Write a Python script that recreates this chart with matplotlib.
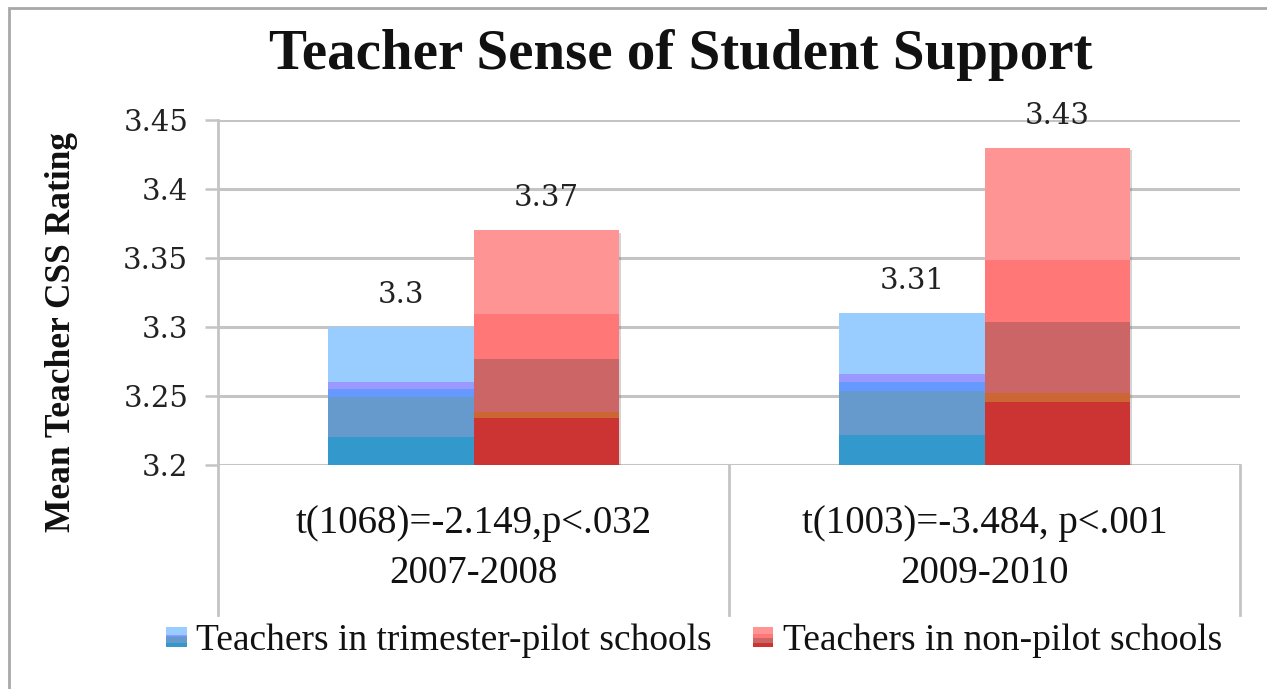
import numpy as np
import matplotlib
matplotlib.use("Agg")
import matplotlib.pyplot as plt
from matplotlib.patches import Rectangle
from matplotlib.legend_handler import HandlerBase
import matplotlib.patheffects as pe

# data
years = ["2007-2008", "2009-2010"]
t_tests = ["t(1068)=-2.149,p<.032", "t(1003)=-3.484, p<.001"]
pilot = [3.30, 3.31]
non_pilot = [3.37, 3.43]
series_names = ["Teachers in trimester-pilot schools", "Teachers in non-pilot schools"]
y_ticks = [3.2, 3.25, 3.3, 3.35, 3.4, 3.45]

# gradient bands (fraction of bar height, colour), bottom to top
blue_bands = [(0.0, "#3399CC"), (0.20, "#6699CC"), (0.49, "#6699FF"),
              (0.55, "#9999FF"), (0.60, "#99CCFF")]
red_bands = [(0.0, "#CC3333"), (0.20, "#CC6633"), (0.228, "#CC6666"),
             (0.45, "#FF7777"), (0.645, "#FF9494")]

base = 3.2
W, H = 1267, 689
fig = plt.figure(figsize=(W / 100, H / 100), dpi=100)
ax = fig.add_axes([218 / W, 1 - 465 / H, 1022 / W, 345 / H])

serif = "Liberation Serif"
tick_font = "DejaVu Serif"
grid_col = "#C4C4C4"


def gradient_bar(x, value, width, bands):
    h = value - base
    # one full bar carries the shadow, bands go on top
    ax.bar(x, h, width, bottom=base, color=bands[0][1], zorder=2, linewidth=0,
           path_effects=[pe.SimplePatchShadow(offset=(2, -2), alpha=0.25, shadow_rgbFace="#555555"),
                         pe.Normal()])
    fracs = [b[0] for b in bands] + [1.0]
    for i, (f0, col) in enumerate(bands):
        f1 = fracs[i + 1]
        ax.bar(x, (f1 - f0) * h, width, bottom=base + f0 * h, color=col,
               zorder=3, linewidth=0)


x = np.arange(len(years))
bw = 0.284
for i in range(len(years)):
    gradient_bar(x[i] - bw / 2, pilot[i], bw, blue_bands)
    gradient_bar(x[i] + bw / 2, non_pilot[i], bw, red_bands)
    for xx, v in [(x[i] - bw / 2, pilot[i]), (x[i] + bw / 2, non_pilot[i])]:
        ax.annotate(f"{v:g}", (xx, v), xytext=(0, 13), textcoords="offset points",
                    ha="center", va="bottom", fontsize=21, family=tick_font,
                    color="#222222")

ax.set_ylim(base, 3.45)
ax.set_xlim(-0.5, 1.5)
ax.set_yticks(y_ticks)
ax.set_yticklabels([f"{t:g}" for t in y_ticks], family=tick_font, fontsize=21,
                   color="#222222")
ax.yaxis.grid(True, color=grid_col, linewidth=2.2, zorder=0)
ax.set_axisbelow(True)
ax.tick_params(axis="y", length=9.5, width=1.8, color=grid_col, pad=12)
for s in ["top", "right", "bottom"]:
    ax.spines[s].set_visible(False)
ax.spines["left"].set_color(grid_col)
ax.spines["left"].set_linewidth(2)

ax.set_xticks(x)
ax.set_xticklabels([f"{t}\n{y}" for t, y in zip(t_tests, years)], family=serif,
                   fontsize=28, linespacing=1.45, color="#111111")
ax.tick_params(axis="x", length=0, pad=29)

# category separators below the axis
for sx in [-0.5, 0.5, 1.5]:
    ax.plot([sx, sx], [0, -150 / 345], transform=ax.get_xaxis_transform(),
            color=grid_col, lw=2, clip_on=False, zorder=1)

ax.set_ylabel("Mean Teacher CSS Rating", family=serif, fontsize=25.5,
              fontweight="bold", color="#111111")
ax.yaxis.set_label_coords((78 - 218) / 1022, (465 - 332) / 345)

fig.text(681 / W, 1 - 55 / H, "Teacher Sense of Student Support", family=serif,
         fontsize=41, fontweight="bold", ha="center", va="center", color="#111111")

# outer chart border
fig.patches.append(Rectangle((9 / W, -0.1), 1.2, 1 - 8 / H + 0.1, transform=fig.transFigure,
                             fill=False, edgecolor="#A8A8A8", lw=2))


class GradientHandler(HandlerBase):
    def __init__(self, bands):
        super().__init__()
        self.bands = bands

    def create_artists(self, legend, orig_handle, xdescent, ydescent, width, height,
                       fontsize, trans):
        side = min(width, height * 1.4)
        x0 = -xdescent + (width - side) / 2
        y0 = -ydescent + (height - side) / 2
        fracs = [b[0] for b in self.bands] + [1.0]
        arts = []
        for i, (f0, col) in enumerate(self.bands):
            r = Rectangle((x0, y0 + f0 * side), side, (fracs[i + 1] - f0) * side,
                          facecolor=col, edgecolor="none", transform=trans)
            arts.append(r)
        return arts


h_blue = Rectangle((0, 0), 1, 1)
h_red = Rectangle((0, 0), 1, 1)
fig.legend([h_blue, h_red], series_names, loc="center", bbox_to_anchor=(694 / W, 1 - 641 / H),
           ncol=2, frameon=False, prop={"family": serif, "size": 27},
           handler_map={h_blue: GradientHandler(blue_bands), h_red: GradientHandler(red_bands)},
           handlelength=0.55, handleheight=0.55, handletextpad=0.25, columnspacing=1.1,
           labelcolor="#111111")

fig.savefig("out.png", dpi=100)
